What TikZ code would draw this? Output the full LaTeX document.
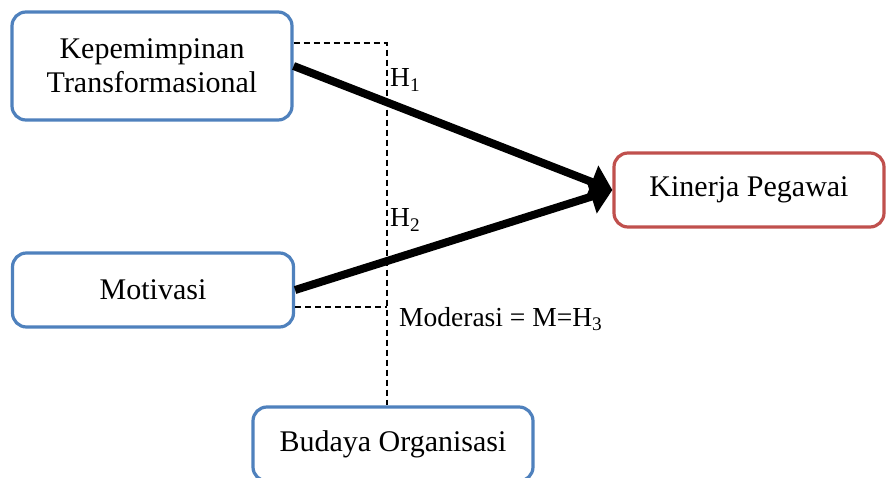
\documentclass[tikz,border=0pt]{standalone}
\usepackage{fontspec}
\setmainfont{Liberation Serif}
\usetikzlibrary{arrows.meta,calc}
\definecolor{boxblue}{RGB}{79,129,189}
\definecolor{boxred}{RGB}{192,80,77}

\begin{document}
\begin{tikzpicture}[x=1pt, y=-1pt, >={Triangle[length=22pt,width=34pt]},
  var/.style={draw=boxblue, line width=3.2pt, rounded corners=14pt, fill=white,
    align=center, font=\fontsize{30}{34}\selectfont, inner sep=0pt},
  lbl/.style={font=\fontsize{27.5}{31}\selectfont, inner sep=0pt, anchor=west},
  path/.style={->, line width=8pt},
  modline/.style={line width=1.4pt, dash pattern=on 6pt off 4pt}]
  \useasboundingbox (0,0) rectangle (886,478);
  \node[var, minimum width=280pt, minimum height=108pt] (kt) at (152,66)
    {Kepemimpinan\\Transformasional};
  \node[var, minimum width=281pt, minimum height=74pt] (mot) at (153,290) {Motivasi};
  \node[var, draw=boxred, minimum width=270pt, minimum height=74pt] (kin) at (749,190)
    {Kinerja Pegawai};
  \node[var, minimum width=280pt, minimum height=74pt] (bud) at (393,444)
    {Budaya Organisasi};
  % moderating line
  \coordinate (mtop) at (387,43);
  \coordinate (mbot) at (387,307);
  \draw[modline] (mtop -| kt.east) -- (mtop) -- (mtop |- bud.north);
  \draw[modline] (mbot -| mot.east) -- (mbot);
  % hypotheses
  \draw[path] (kt.east) -- (kin.west);
  \draw[path] (mot.east) -- (kin.west);
  \node[lbl] (h1) at (390,80) {H\textsubscript{1}};
  \node[lbl] (h2) at (390,220) {H\textsubscript{2}};
  \node[lbl] (h3) at (399,319) {Moderasi = M=H\textsubscript{3}};
\end{tikzpicture}
\end{document}
